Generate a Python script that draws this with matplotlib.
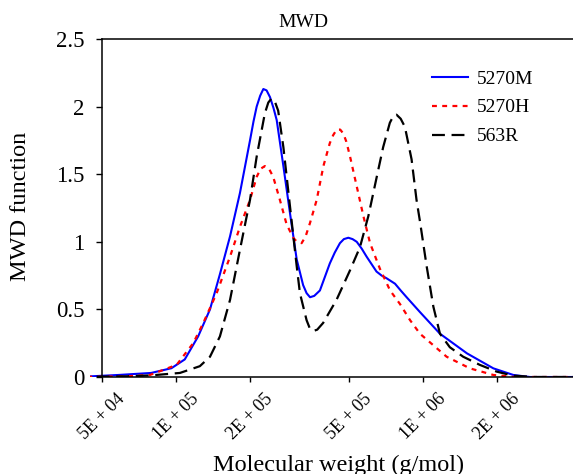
#!/usr/bin/env python3

import matplotlib
matplotlib.use('Agg')
import matplotlib.pyplot as plt

#Molecular weight (g/mol) and MWD function
mw_5270m = [39800, 58500, 79400, 95900, 108600, 123000, 137400, 150700, 165600, 181600,
	199500, 206100, 212300, 219300, 225900, 232800, 240400, 248300, 255900, 272300,
	289700, 308300, 327300, 338100, 349100, 363100, 382800, 419800, 439500, 461300,
	478600, 498900, 518800, 539500, 564900, 591600, 648600, 680800, 712900, 741300,
	770900, 812800, 859000, 972800, 1172000, 1507000, 1928000, 2323000, 2710000, 4467000]
mwd_5270m = [0, 0.015, 0.03, 0.065, 0.13, 0.30, 0.50, 0.76, 1.04, 1.36,
	1.75, 1.89, 2.0, 2.08, 2.13, 2.12, 2.07, 1.99, 1.90, 1.56,
	1.21, 0.87, 0.68, 0.62, 0.59, 0.60, 0.64, 0.84, 0.92, 0.99,
	1.02, 1.03, 1.02, 1.0, 0.95, 0.89, 0.78, 0.75, 0.73, 0.71,
	0.69, 0.64, 0.59, 0.48, 0.32, 0.175, 0.064, 0.015, 0, 0]

mw_5270h = [39800, 63100, 78500, 100700, 117500, 129100, 146200, 165600, 181600, 199500,
	212300, 220300, 229100, 238200, 247700, 263600, 280500, 298500, 309000, 322800,
	335000, 349100, 371500, 395400, 419800, 433500, 447700, 462400, 476400, 489800,
	507000, 539500, 574100, 610900, 669900, 736200, 807200, 887200, 972800, 1247000,
	1549000, 1928000, 2344000, 4467000]
mwd_5270h = [0, 0.005, 0.015, 0.09, 0.25, 0.40, 0.62, 0.89, 1.11, 1.31,
	1.48, 1.54, 1.56, 1.54, 1.48, 1.31, 1.13, 1.03, 1.0, 0.99,
	1.04, 1.14, 1.31, 1.56, 1.73, 1.79, 1.83, 1.83, 1.80, 1.74,
	1.63, 1.41, 1.19, 0.99, 0.80, 0.64, 0.54, 0.42, 0.32, 0.15,
	0.064, 0.015, 0, 0]

mw_563r = [39800, 63100, 79400, 103800, 125000, 137400, 150700, 165600, 181600, 199500,
	212300, 229100, 236600, 243800, 251200, 259400, 272300, 289700, 308300, 317700,
	338100, 348300, 359700, 373200, 394500, 446700, 507000, 555900, 601200, 650100,
	690200, 734500, 758600, 781600, 812800, 845300, 899500, 941900, 972800, 1035000,
	1102000, 1172000, 1285000, 1455000, 1698000, 1986000, 2317000, 2818000, 4467000]
mwd_563r = [0, 0.005, 0.012, 0.03, 0.08, 0.15, 0.30, 0.57, 0.94, 1.31,
	1.63, 1.95, 2.03, 2.06, 2.04, 1.97, 1.70, 1.26, 0.82, 0.62,
	0.42, 0.36, 0.34, 0.35, 0.40, 0.57, 0.79, 0.96, 1.19, 1.48,
	1.70, 1.88, 1.93, 1.94, 1.91, 1.85, 1.61, 1.31, 1.15, 0.82,
	0.52, 0.32, 0.22, 0.15, 0.09, 0.04, 0.01, 0, 0]

x_ticks = [5e4, 1e5, 2e5, 5e5, 1e6, 2e6]
x_ticklabels = ['5E + 04', '1E + 05', '2E + 05', '5E + 05', '1E + 06', '2E + 06']
y_ticks = [0, 0.5, 1, 1.5, 2, 2.5]
y_ticklabels = ['0', '0.5', '1', '1.5', '2', '2.5']

def main():
	plt.rcParams['font.family'] = ['Liberation Serif', 'DejaVu Serif']
	W, H = 573, 474
	fig = plt.figure(figsize=(W / 100, H / 100), dpi=100)
	ax = fig.add_axes([90 / W, 1 - 377 / H, (W - 90) / W, (377 - 39) / H])

	#Plot the three distributions
	ax.plot(mw_5270m, mwd_5270m, color='#0000ff', lw=1.5, label='5270M')
	ax.plot(mw_5270h, mwd_5270h, color='#ff0000', lw=1.6, dashes=(2.2, 2.4), label='5270H')
	ax.plot(mw_563r, mwd_563r, color='black', lw=1.6, dashes=(5.8, 3.0), label='563R')

	#Spines (set before ticks, moving a spine resets its ticks)
	ax.set_xscale('log')
	ax.set_xlim(44900, 4.05e6)
	ax.set_ylim(0, 2.5)
	ax.spines['right'].set_visible(False)
	ax.spines['left'].set_position(('data', 5e4))
	ax.spines['top'].set_bounds(5e4, 4.05e6)
	ax.spines['bottom'].set_bounds(5e4, 4.05e6)
	for s in ['left', 'top', 'bottom']:
		ax.spines[s].set_linewidth(1.1)

	#Ticks
	ax.set_xticks(x_ticks)
	ax.set_xticklabels(x_ticklabels, rotation=45, ha='center', fontsize=13)
	ax.minorticks_off()
	ax.set_yticks(y_ticks)
	ax.set_yticklabels(y_ticklabels, fontsize=16.5)
	ax.tick_params(axis='x', direction='out', length=3.5, width=1, pad=6)
	ax.tick_params(axis='y', direction='out', length=4.5, width=1, pad=8)

	#Labels and title
	fig.text(303 / W, 1 - 27 / H, 'MWD', ha='center', va='baseline', fontsize=14)
	fig.text(339 / W, 1 - 471 / H, 'Molecular weight (g/mol)', ha='center', va='baseline', fontsize=17.5)
	fig.text(21 / W, 1 - 206 / H, 'MWD function', ha='center', va='center', rotation=90, fontsize=17.5)

	#Legend
	ax.legend(loc='upper left', bbox_to_anchor=(432 / W, 1 - 70 / H), bbox_transform=fig.transFigure,
		frameon=False, fontsize=14, borderpad=0, borderaxespad=0,
		handlelength=1.85, handletextpad=0.45, labelspacing=0.58)

	plt.savefig('out.png', dpi=100)

if __name__ == '__main__':
	main()
